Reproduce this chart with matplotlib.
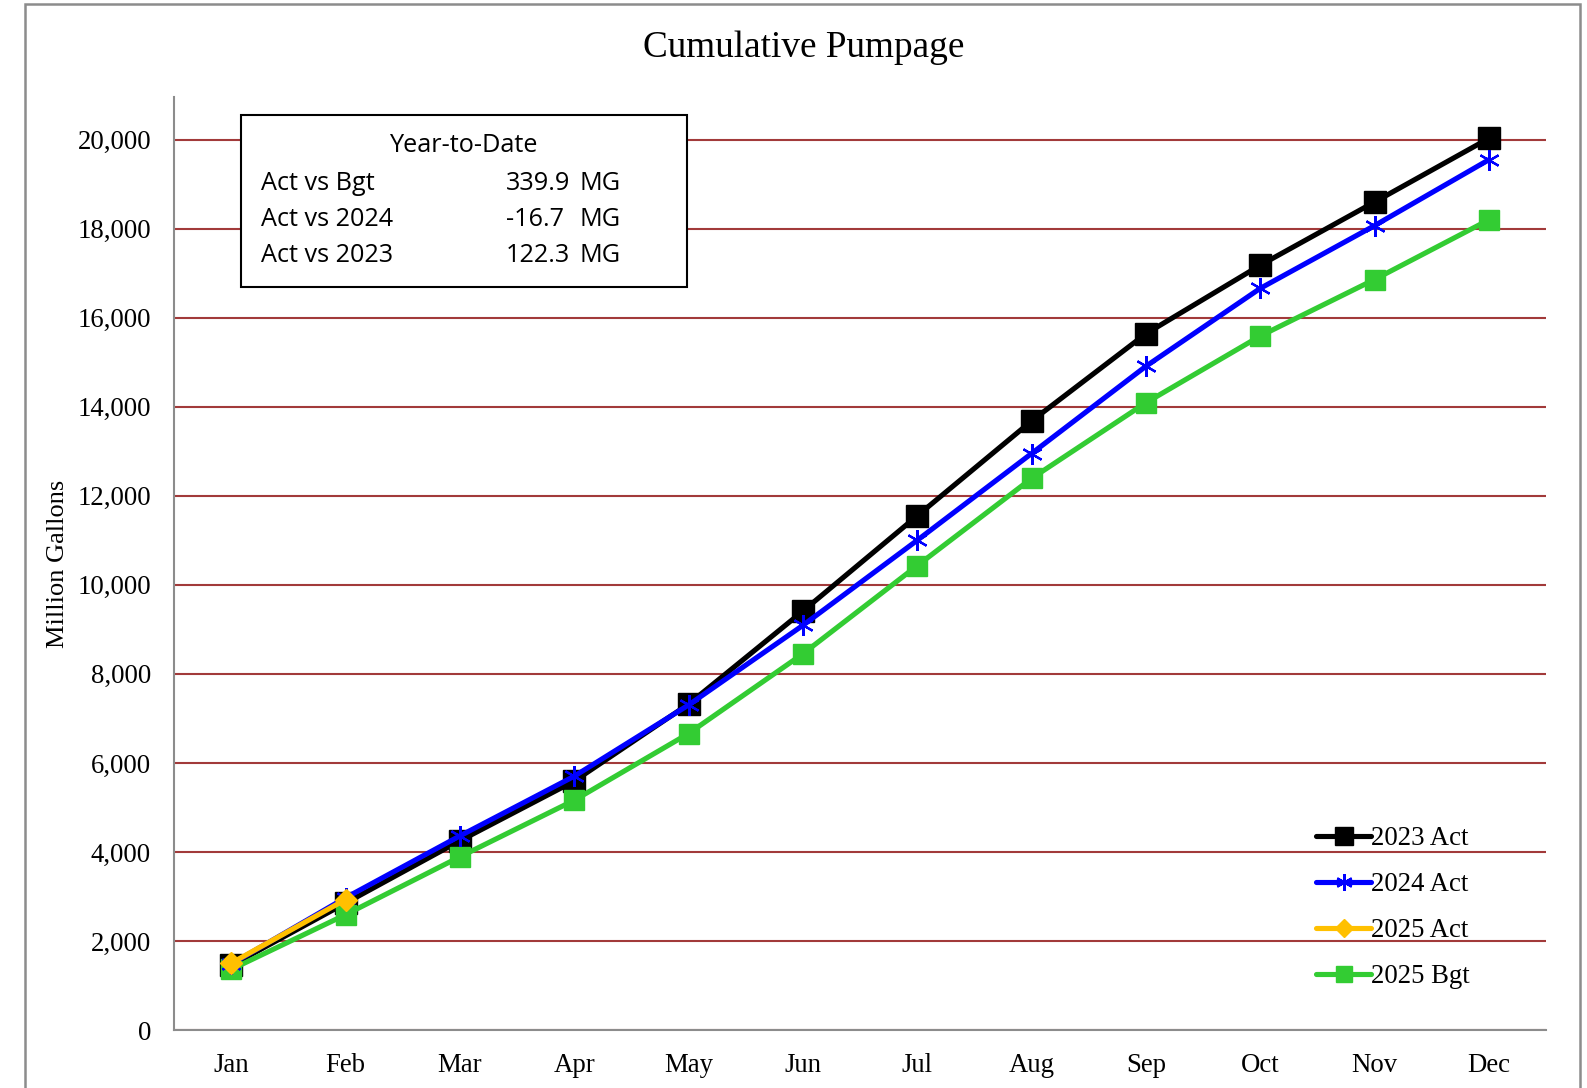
import matplotlib.pyplot as plt
from matplotlib.patches import Rectangle

meses = ['Jan', 'Feb', 'Mar', 'Apr', 'May', 'Jun', 'Jul', 'Aug', 'Sep', 'Oct', 'Nov', 'Dec']

act_2023 = [1450, 2850, 4250, 5590, 7320, 9410, 11550, 13680, 15640, 17180, 18600, 20030]
act_2024 = [1480, 2970, 4360, 5700, 7300, 9090, 11000, 12950, 14910, 16660, 18070, 19550]
act_2025 = [1500, 2930]
bgt_2025 = [1360, 2590, 3890, 5160, 6660, 8450, 10430, 12390, 14090, 15590, 16860, 18200]

ytd_etiquetas = ['Act vs Bgt', 'Act vs 2024', 'Act vs 2023']
ytd_valores = ['339.9', '-16.7', '122.3']

serif = 'Liberation Serif'
caja_font = 'Open Sans'
rojo = '#A23A3A'
lw = 3.7

fig = plt.figure(figsize=(15.87, 10.88), dpi=100)
ax = fig.add_axes([174 / 1587, 58 / 1088, 1372 / 1587, 933 / 1088])

x = list(range(len(meses)))

# Series
ax.plot(x, act_2023, color='black', lw=lw, marker='s', ms=16, zorder=3, label='2023 Act')
ax.plot(x, act_2024, color='#0000FF', lw=lw, marker=(6, 2, 0), ms=15, mew=1.6, zorder=4, label='2024 Act')
ax.plot(x[:len(act_2025)], act_2025, color='#FFC000', lw=lw, marker='D', ms=11, zorder=5, label='2025 Act')
ax.plot(x, bgt_2025, color='#33CC33', lw=lw, marker='s', ms=15, zorder=3, label='2025 Bgt')

ax.set_xlim(-0.5, 11.5)
ax.set_ylim(0, 20960)
ax.set_yticks(range(0, 20001, 2000))
ax.set_xticks(x)
ax.set_xticklabels(meses)
ax.yaxis.set_major_formatter(plt.FuncFormatter(lambda v, p: f'{int(v):,}'))
ax.tick_params(axis='both', length=0, labelsize=19.3)
ax.tick_params(axis='x', pad=16.5)
ax.tick_params(axis='y', pad=16.5)
for lab in ax.get_xticklabels() + ax.get_yticklabels():
    lab.set_fontfamily(serif)

ax.grid(axis='y', color=rojo, lw=1.5)
ax.set_axisbelow(True)
for s in ['top', 'right']:
    ax.spines[s].set_visible(False)
for s in ['left', 'bottom']:
    ax.spines[s].set_color('#8C8C8C')
    ax.spines[s].set_linewidth(1.5)
ax.spines['bottom'].set_zorder(2.5)

ax.set_ylabel('Million Gallons', fontfamily=serif, fontsize=19, labelpad=6)

fig.text(804 / 1587, 1 - 48 / 1088, 'Cumulative Pumpage', ha='center', va='center',
         fontfamily=serif, fontsize=26.8)

# Leyenda
leg = ax.legend(loc='lower right', bbox_to_anchor=(0.962, 0.018), frameon=False,
                prop={'family': serif, 'size': 19.3}, handlelength=2.05,
                handletextpad=0.0, labelspacing=0.78, markerscale=0.8)
for h in leg.get_lines():
    h.set_solid_capstyle('round')

# Caja Year-to-Date
caja = Rectangle((241 / 1587, 1 - 287 / 1088), 446 / 1587, 172 / 1088,
                 transform=fig.transFigure, facecolor='white', edgecolor='black', lw=1.5, zorder=10)
fig.patches.append(caja)
fig.text(463 / 1587, 1 - 146 / 1088, 'Year-to-Date', ha='center', va='center',
         fontfamily=caja_font, fontsize=18.2, zorder=11)
for i, (et, val) in enumerate(zip(ytd_etiquetas, ytd_valores)):
    yy = 1 - (183 + i * 36) / 1088
    fig.text(261 / 1587, yy, et, ha='left', va='center', fontfamily=caja_font, fontsize=18.2, zorder=11)
    fig.text(506 / 1587, yy, val, ha='left', va='center', fontfamily=caja_font, fontsize=18.2, zorder=11)
    fig.text(580 / 1587, yy, 'MG', ha='left', va='center', fontfamily=caja_font, fontsize=18.2, zorder=11)

# Borde de la figura
borde = Rectangle((25 / 1587, -0.02), 1555 / 1587, 1.02 - 4 / 1088, transform=fig.transFigure,
                  facecolor='none', edgecolor='#8C8C8C', lw=1.8)
fig.patches.append(borde)

fig.savefig('out.png', dpi=100)
